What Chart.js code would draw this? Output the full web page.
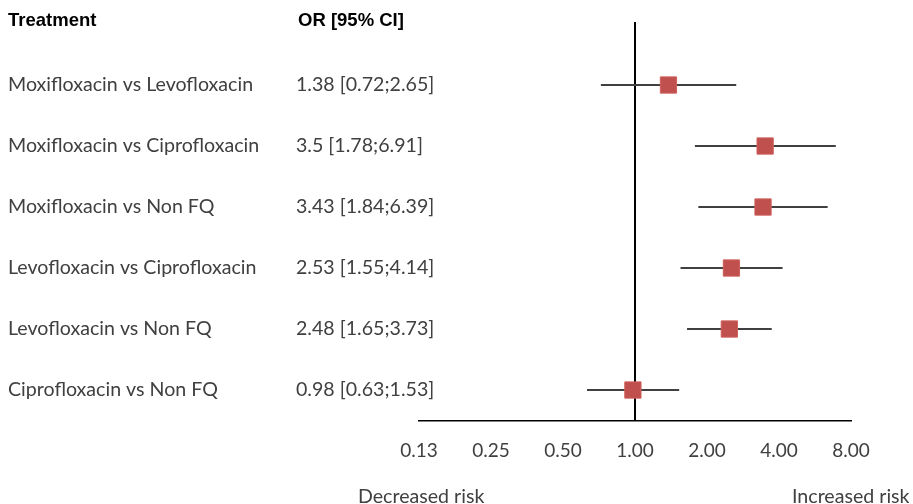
<!DOCTYPE html>
<html>
<head>
<meta charset="utf-8">
<script src="https://cdn.jsdelivr.net/npm/chart.js@4.4.1/dist/chart.umd.min.js"></script>
<style>
  html, body { margin: 0; padding: 0; background: #fff; }
  #wrap { width: 913px; height: 504px; }
</style>
</head>
<body>
<div id="wrap"><canvas id="forestChart"></canvas></div>
<script>
// ===============================
// DONNEES
// ===============================
const treatments = [
    'Moxifloxacin vs Levofloxacin',
    'Moxifloxacin vs Ciprofloxacin',
    'Moxifloxacin vs Non FQ',
    'Levofloxacin vs Ciprofloxacin',
    'Levofloxacin vs Non FQ',
    'Ciprofloxacin vs Non FQ'
];
const orValues = [1.38, 3.5, 3.43, 2.53, 2.48, 0.98];
const ciLow    = [0.72, 1.78, 1.84, 1.55, 1.65, 0.63];
const ciHigh   = [2.65, 6.91, 6.39, 4.14, 3.73, 1.53];
const orLabels = [
    '1.38 [0.72;2.65]',
    '3.5 [1.78;6.91]',
    '3.43 [1.84;6.39]',
    '2.53 [1.55;4.14]',
    '2.48 [1.65;3.73]',
    '0.98 [0.63;1.53]'
];
const xTicks = [0.125, 0.25, 0.5, 1, 2, 4, 8];
const xTickLabels = ['0.13', '0.25', '0.50', '1.00', '2.00', '4.00', '8.00'];

const textFont = 'Lato, "Open Sans", sans-serif';
const headFont = '"Liberation Sans", Arial, sans-serif';

// ===============================
// DATASETS
// ===============================
const ciSets = treatments.map((t, i) => ({
    type: 'line',
    data: [{ x: ciLow[i], y: i }, { x: ciHigh[i], y: i }],
    borderColor: '#404040',
    borderWidth: 2.2,
    pointRadius: 0,
    order: 2
}));

const pointSet = {
    type: 'scatter',
    data: orValues.map((v, i) => ({ x: v, y: i })),
    pointStyle: 'rect',
    pointRadius: 11.5,
    backgroundColor: '#c0504d',
    borderColor: '#d0605c',
    borderWidth: 1,
    order: 1
};

// ligne verticale a OR = 1 + textes
const forestText = {
    id: 'forestText',
    beforeDatasetsDraw(chart) {
        const { ctx, chartArea, scales } = chart;
        const x1 = scales.x.getPixelForValue(1);
        ctx.save();
        ctx.strokeStyle = '#000';
        ctx.lineWidth = 2;
        ctx.beginPath();
        ctx.moveTo(x1, chartArea.top);
        ctx.lineTo(x1, chartArea.bottom);
        ctx.stroke();
        ctx.restore();
    },
    afterDraw(chart) {
        const { ctx, scales } = chart;
        ctx.save();
        ctx.textBaseline = 'middle';
        ctx.fillStyle = '#000';
        ctx.font = 'bold 18.5px ' + headFont;
        ctx.fillText('Treatment', 8, 21);
        ctx.fillText('OR [95% CI]', 298, 21);

        ctx.fillStyle = '#404040';
        ctx.font = '19.6px ' + textFont;
        treatments.forEach((t, i) => {
            const y = scales.y.getPixelForValue(i);
            ctx.fillText(t, 8, y);
            ctx.fillText(orLabels[i], 296, y);
        });
        ctx.fillText('Decreased risk', 358, 497);
        ctx.fillText('Increased risk', 792, 497);
        ctx.restore();
    }
};

new Chart(document.getElementById('forestChart'), {
    data: { datasets: [pointSet, ...ciSets] },
    options: {
        responsive: true,
        maintainAspectRatio: false,
        animation: false,
        layout: { padding: { left: 419, right: 62, top: 22, bottom: 0 } },
        plugins: { legend: { display: false }, tooltip: { enabled: false } },
        scales: {
            x: {
                type: 'logarithmic',
                min: 0.125,
                max: 8,
                afterBuildTicks: scale => { scale.ticks = xTicks.map(v => ({ value: v })); },
                afterFit: scale => { scale.height = 83; },
                ticks: {
                    callback: (v, idx) => xTickLabels[idx],
                    color: '#404040',
                    font: { family: textFont, size: 19 },
                    padding: 18,
                    maxRotation: 0,
                    autoSkip: false
                },
                grid: { display: false, drawTicks: false },
                border: { display: true, color: '#000', width: 1.5 }
            },
            y: {
                type: 'linear',
                reverse: true,
                min: -1.033,
                max: 5.508,
                display: false
            }
        }
    },
    plugins: [forestText]
});
</script>
</body>
</html>
